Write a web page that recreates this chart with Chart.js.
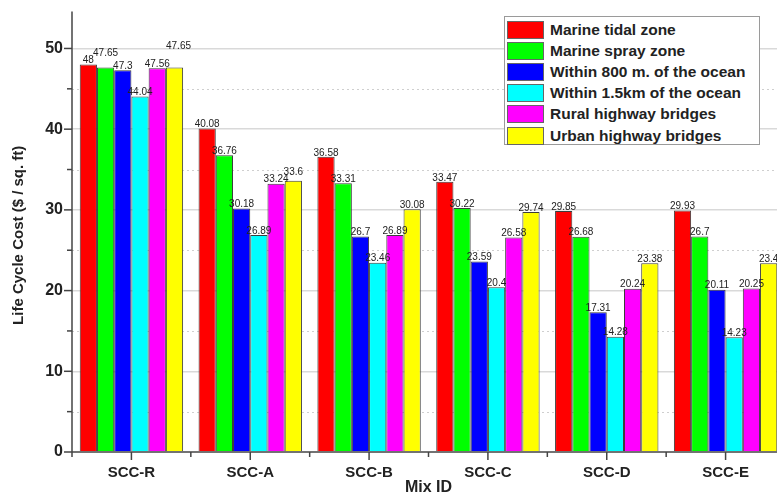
<!DOCTYPE html>
<html>
<head>
<meta charset="utf-8">
<script src="https://cdn.jsdelivr.net/npm/chart.js@4/dist/chart.umd.min.js"></script>
<style>
  html,body{margin:0;padding:0;background:#fff;overflow:hidden;}
  #wrap{position:relative;width:787px;height:497px;}
  #legend{position:absolute;left:504px;top:16px;width:256px;height:129px;background:#fff;
    border:1px solid #9a9a9a;box-sizing:border-box;padding:2px 0 0 2px;
    font:bold 15.5px "Liberation Sans",Arial,sans-serif;color:#222;}
  #legend .row{display:flex;align-items:center;height:21.2px;}
  #legend .sw{width:35px;height:16px;border:1px solid #666;margin-right:6px;flex:none;}
</style>
</head>
<body>
<div id="wrap">
  <canvas id="chart-lcc" width="787" height="497"></canvas>
  <div id="legend"></div>
</div>
<script>
// mix designs and exposure conditions
const mixIds = ["SCC-R","SCC-A","SCC-B","SCC-C","SCC-D","SCC-E"];
const exposures = ["Marine tidal zone","Marine spray zone","Within 800 m. of the ocean",
                   "Within 1.5km of the ocean","Rural highway bridges","Urban highway bridges"];

// life cycle cost, $ / sq. ft
const tidal      = [48, 40.08, 36.58, 33.47, 29.85, 29.93];
const spray      = [47.65, 36.76, 33.31, 30.22, 26.68, 26.7];
const within800m = [47.3, 30.18, 26.7, 23.59, 17.31, 20.11];
const within1500 = [44.04, 26.89, 23.46, 20.4, 14.28, 14.23];
const rural      = [47.56, 33.24, 26.89, 26.58, 20.24, 20.25];
const urban      = [47.65, 33.6, 30.08, 29.74, 23.38, 23.4];

const yTicks = [0,10,20,30,40,50];
const yMax = 53.7;

const series = [tidal, spray, within800m, within1500, rural, urban];
const fills  = ["#ff0000","#00ff00","#0000ff","#00ffff","#ff00ff","#ffff00"];

// a few value labels sit higher than the rest: [dataset][group] -> [dx, dy]
const nudge = { "1-0":[0,-10], "5-0":[4,-17], "5-1":[0,-5] };

const FONT = '"Liberation Sans", Arial, sans-serif';
const onStep = v => v % 5 === 0;

const minorGrid = {
  id:"minorGrid",
  beforeDatasetsDraw(chart){
    const {ctx, chartArea:{left,right}, scales:{y}} = chart;
    ctx.save();
    ctx.strokeStyle = "#cfcfcf"; ctx.lineWidth = 1; ctx.setLineDash([2,3]);
    y.ticks.forEach(t=>{
      if(!onStep(t.value) || t.value % 10 === 0) return;
      const py = Math.round(y.getPixelForValue(t.value)) + .5;
      ctx.beginPath(); ctx.moveTo(left,py); ctx.lineTo(right,py); ctx.stroke();
    });
    ctx.restore();
  }
};

const axisMarks = {
  id:"axisMarks",
  afterDraw(chart){
    const {ctx, chartArea:{left,bottom,top}, scales:{x,y}} = chart;
    ctx.save();
    ctx.strokeStyle = "#444"; ctx.lineWidth = 1.5;
    const seg = (x1,y1,x2,y2)=>{ ctx.beginPath(); ctx.moveTo(x1,y1); ctx.lineTo(x2,y2); ctx.stroke(); };
    y.ticks.forEach(t=>{
      if(!onStep(t.value)) return;
      const py = y.getPixelForValue(t.value);
      seg(left - (t.value % 10 === 0 ? 8 : 5), py, left, py);
    });
    mixIds.forEach((_,i)=>{
      seg(x.getPixelForValue(i), bottom, x.getPixelForValue(i), bottom+8);
      seg(x.getPixelForValue(i-0.5), bottom, x.getPixelForValue(i-0.5), bottom+5);
    });
    seg(left, top-7, left, bottom);
    seg(left, bottom, chart.width, bottom);
    ctx.restore();
  }
};

const valueLabels = {
  id:"valueLabels",
  afterDatasetsDraw(chart){
    const {ctx} = chart;
    ctx.save();
    ctx.font = "10px " + FONT; ctx.fillStyle = "#222";
    ctx.textAlign = "center"; ctx.textBaseline = "bottom";
    chart.data.datasets.forEach((ds,di)=>{
      chart.getDatasetMeta(di).data.forEach((bar,i)=>{
        const [dx,dy] = nudge[di+"-"+i] || [0,0];
        ctx.fillText(String(ds.data[i]), bar.x + dx, bar.y + 1 + dy);
      });
    });
    ctx.restore();
  }
};

new Chart(document.getElementById("chart-lcc"),{
  type:"bar",
  data:{
    labels:mixIds,
    datasets:series.map((d,i)=>({
      label:exposures[i], data:d, backgroundColor:fills[i],
      borderColor:"#3c3c3c", borderWidth:1,
      categoryPercentage:.87, barPercentage:1,
    })),
  },
  options:{
    responsive:false, animation:false,
    layout:{ padding:{ top:7, right:2 } },
    plugins:{ legend:{display:false}, tooltip:{enabled:false} },
    scales:{
      x:{
        grid:{ display:false, drawTicks:false },
        border:{ display:false },
        ticks:{ color:"#222", padding:12, font:{family:FONT, size:15, weight:"bold"} },
        title:{ display:true, text:"Mix ID", color:"#222", padding:{top:-1,bottom:0},
                font:{family:FONT, size:16, weight:"bold"} },
        afterFit:s=>{ s.height = 45; },
      },
      y:{
        min:0, max:yMax,
        grid:{ drawTicks:false, color:c=> yTicks.includes(c.tick.value) && c.tick.value>0 ? "#d9d9d9" : "transparent", lineWidth:1.5 },
        border:{ display:false },
        ticks:{ stepSize:5, padding:9, color:"#222",
                callback:v=> yTicks.includes(v) ? v : "",
                font:{family:FONT, size:16, weight:"bold"} },
        title:{ display:true, text:"Life Cycle Cost ($ / sq. ft)", color:"#222", padding:{top:10,bottom:0},
                font:{family:FONT, size:15, weight:"bold"} },
        afterFit:s=>{ s.width = 72; },
      },
    },
  },
  plugins:[minorGrid, valueLabels, axisMarks],
});

// legend box drawn over the plot
document.getElementById("legend").innerHTML = exposures.map((name,i)=>
  `<div class="row"><span class="sw" style="background:${fills[i]}"></span>${name}</div>`).join("");
</script>
</body>
</html>
